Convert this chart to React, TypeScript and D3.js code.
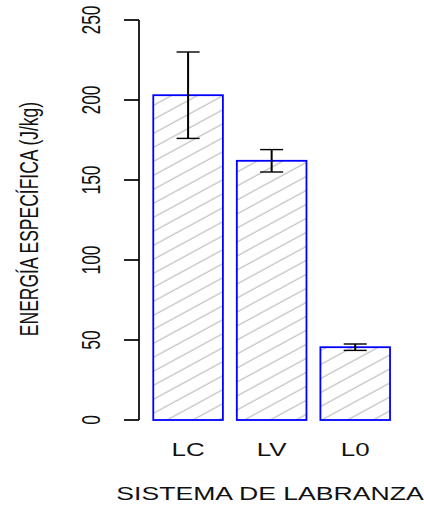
import React from "react";
import * as d3 from "d3";

// Tillage systems and their specific energy (mean ± error)
const categories = ["LC", "LV", "L0"];
const means = [203, 162, 45.5];
const errors = [27, 7, 2];
const yTicks = [0, 50, 100, 150, 200, 250];

const yTitle = "ENERGÍA ESPECÍFICA (J/kg)";
const xTitle = "SISTEMA DE LABRANZA";

const W = 424;
const H = 505;
const FONT = "'Liberation Sans', Arial, sans-serif";
const FS = 17.5;
const SX = 1.48; // horizontal stretch applied to all text

export default function App() {
  const y = d3.scaleLinear().domain([0, 250]).range([420, 20]);
  const x = d3
    .scaleBand<string>()
    .domain(categories)
    .range([146.3, 397])
    .paddingInner(0.2 / 1.2)
    .paddingOuter(0.1 / 1.2);

  const axisX = 139;
  const capHalf = 11.5;

  return (
    <svg
      width={W}
      height={H}
      style={{ position: "absolute", left: 0, top: 0, background: "#fff" }}
    >
      <defs>
        <pattern
          id="hatch"
          patternUnits="userSpaceOnUse"
          width={40}
          height={12.3}
          patternTransform="rotate(-28.5)"
        >
          <line x1={0} y1={6} x2={40} y2={6} stroke="#adadad" strokeWidth={1} />
        </pattern>
      </defs>

      {/* bars */}
      {categories.map((c, i) => (
        <rect
          key={c}
          x={x(c)}
          y={y(means[i])}
          width={x.bandwidth()}
          height={y(0) - y(means[i])}
          fill="url(#hatch)"
          stroke="#0000ff"
          strokeWidth={1.8}
        />
      ))}

      {/* error bars */}
      {categories.map((c, i) => {
        const cx = (x(c) as number) + x.bandwidth() / 2;
        const top = y(means[i] + errors[i]);
        const bot = y(means[i] - errors[i]);
        return (
          <g key={c} stroke="#000">
            <line x1={cx} x2={cx} y1={top} y2={bot} strokeWidth={2} />
            <line x1={cx - capHalf} x2={cx + capHalf} y1={top} y2={top} strokeWidth={1.4} />
            <line x1={cx - capHalf} x2={cx + capHalf} y1={bot} y2={bot} strokeWidth={1.4} />
          </g>
        );
      })}

      {/* y axis */}
      <g stroke="#000" strokeWidth={1.7}>
        <line x1={axisX} x2={axisX} y1={y(250)} y2={y(0)} />
        {yTicks.map((t) => (
          <line key={t} x1={axisX - 15} x2={axisX} y1={y(t)} y2={y(t)} />
        ))}
      </g>
      <g fontFamily={FONT} fontSize={FS} fill="#111" textAnchor="middle">
        {yTicks.map((t) => (
          <text
            key={t}
            transform={`translate(100,${y(t)}) scale(${SX},1) rotate(-90)`}
          >
            {t}
          </text>
        ))}
        <text transform={`translate(38,${(y(0) + y(250)) / 2 - 1}) scale(${SX},1) rotate(-90)`}>
          {yTitle}
        </text>

        {/* category labels */}
        {categories.map((c) => (
          <text
            key={c}
            transform={`translate(${(x(c) as number) + x.bandwidth() / 2},456) scale(${SX},1)`}
          >
            {c}
          </text>
        ))}
        <text transform={`translate(270,500) scale(1.52,1)`}>{xTitle}</text>
      </g>
    </svg>
  );
}
